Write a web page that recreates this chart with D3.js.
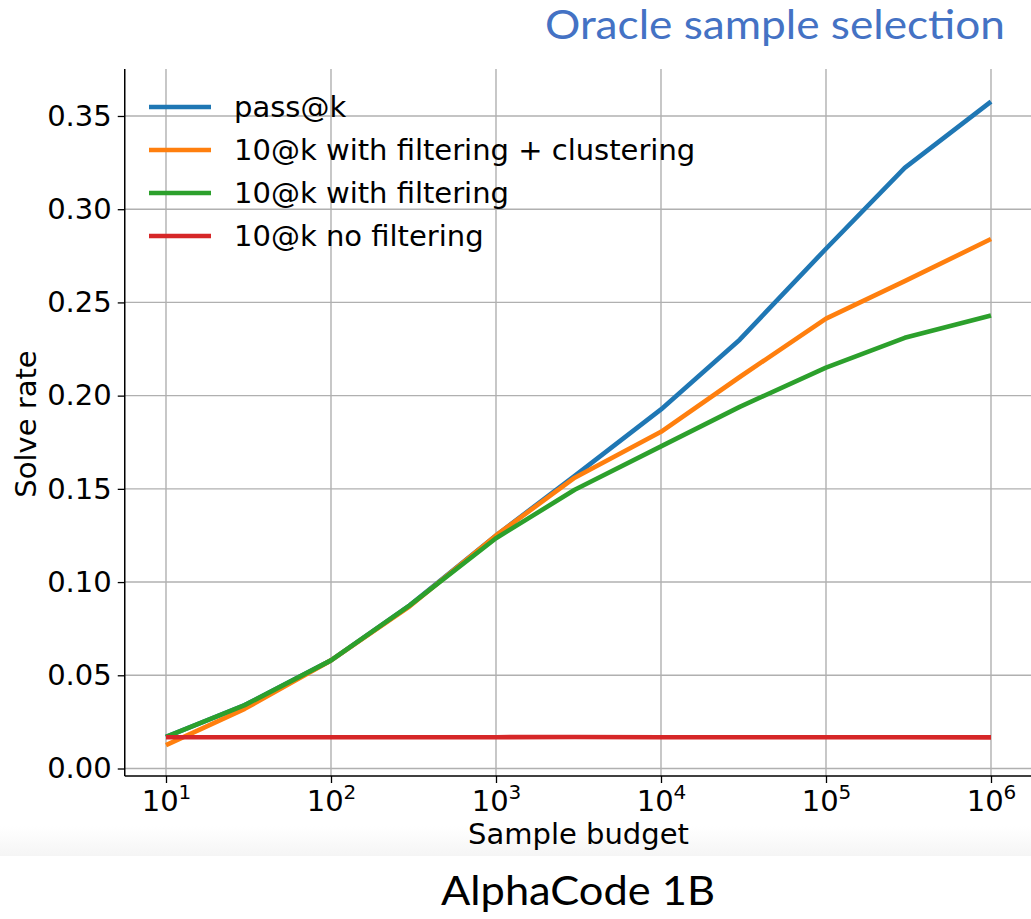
<!DOCTYPE html>
<html>
<head>
<meta charset="utf-8">
<script src="https://cdn.jsdelivr.net/npm/d3@7"></script>
<style>
  html, body { margin: 0; padding: 0; background: #ffffff; }
  svg { display: block; }
</style>
</head>
<body>
<svg id="chart" width="1031" height="919"></svg>
<script>
// ---- data ----
const sampleBudget = [10, 30, 100, 300, 1000, 3000, 1e4, 3e4, 1e5, 3e5, 1e6];
const passAtK      = [0.017, 0.034, 0.058, 0.0875, 0.125, 0.157, 0.1926, 0.230, 0.2788, 0.3222, 0.3577];
const filterClust  = [0.0125, 0.032, 0.058, 0.087, 0.125, 0.156, 0.1806, 0.210, 0.2413, 0.2614, 0.284];
const withFilter   = [0.017, 0.034, 0.058, 0.0875, 0.1235, 0.1495, 0.1728, 0.194, 0.215, 0.231, 0.243];
const noFilter     = [0.0168, 0.0168, 0.0168, 0.0168, 0.0168, 0.0169, 0.0168, 0.0168, 0.0168, 0.0168, 0.0167];
const seriesNames  = ["pass@k", "10@k with filtering + clustering", "10@k with filtering", "10@k no filtering"];
const seriesColors = ["#1f77b4", "#ff7f0e", "#2ca02c", "#d62728"];
const yTicks = [0, 0.05, 0.10, 0.15, 0.20, 0.25, 0.30, 0.35];
const xTicks = [1e1, 1e2, 1e3, 1e4, 1e5, 1e6];
const titleText = "Oracle sample selection";
const captionText = "AlphaCode 1B";
const xLabel = "Sample budget";
const yLabel = "Solve rate";

const svg = d3.select("#chart");
const W = 1031, H = 919;
const FS = 29;

// plot area
const pL = 124.75, pR = 1032.25, pT = 69, pB = 776;
const x = d3.scaleLog().domain([Math.pow(10, 0.75), Math.pow(10, 6.25)]).range([pL, pR]);
const y = d3.scaleLinear().domain([-0.00402, 0.3752]).range([pB, pT]);

// faint shadow band at bottom of chart image
const defs = svg.append("defs");
const grad = defs.append("linearGradient").attr("id", "fade").attr("x1", 0).attr("y1", 0).attr("x2", 0).attr("y2", 1);
grad.append("stop").attr("offset", "0%").attr("stop-color", "#ffffff");
grad.append("stop").attr("offset", "100%").attr("stop-color", "#f5f5f5");
svg.append("rect").attr("x", 0).attr("y", 826).attr("width", W).attr("height", 30).attr("fill", "url(#fade)");

// grid
const g = svg.append("g");
g.selectAll(".vgrid").data(xTicks).enter().append("line")
  .attr("x1", d => x(d)).attr("x2", d => x(d))
  .attr("y1", pT).attr("y2", pB)
  .attr("stroke", "#b0b0b0").attr("stroke-width", 1.4);
g.selectAll(".hgrid").data(yTicks).enter().append("line")
  .attr("x1", pL).attr("x2", W)
  .attr("y1", d => y(d)).attr("y2", d => y(d))
  .attr("stroke", "#b0b0b0").attr("stroke-width", 1.4);

// lines
const allSeries = [passAtK, filterClust, withFilter, noFilter];
const line = d3.line().x((d, i) => x(sampleBudget[i])).y(d => y(d));
allSeries.forEach((s, si) => {
  svg.append("path")
    .datum(s)
    .attr("d", line)
    .attr("fill", "none")
    .attr("stroke", seriesColors[si])
    .attr("stroke-width", 4.6)
    .attr("stroke-linejoin", "round");
});

// axes
const yAxis = d3.axisLeft(y).tickValues(yTicks).tickFormat(d3.format(".2f")).tickSize(7).tickPadding(6);
const yg = svg.append("g").attr("transform", `translate(${pL},0)`).call(yAxis);
yg.select(".domain").attr("d", `M0,${pT}V${pB}`).attr("stroke", "#000").attr("stroke-width", 1.5);
yg.selectAll(".tick line").attr("stroke", "#000").attr("stroke-width", 1.3);
yg.selectAll(".tick text").attr("font-family", "DejaVu Sans").attr("font-size", FS).attr("fill", "#000");

const xAxis = d3.axisBottom(x).tickValues(xTicks).tickFormat("").tickSize(7);
const xg = svg.append("g").attr("transform", `translate(0,${pB})`).call(xAxis);
xg.select(".domain").attr("d", `M${pL},0H${W}`).attr("stroke", "#000").attr("stroke-width", 1.5);
xg.selectAll(".tick line").attr("stroke", "#000").attr("stroke-width", 1.3);
xg.selectAll(".tick").append("text")
  .attr("y", 35).attr("fill", "#000")
  .attr("font-family", "DejaVu Sans").attr("font-size", FS)
  .attr("text-anchor", "middle")
  .each(function(d) {
    const t = d3.select(this);
    t.append("tspan").text("10");
    t.append("tspan").attr("dy", -12).attr("font-size", 20).text(String(Math.round(Math.log10(d))));
  });

// axis labels
svg.append("text").attr("x", (pL + pR) / 2).attr("y", 844)
  .attr("text-anchor", "middle").attr("font-family", "DejaVu Sans").attr("font-size", FS)
  .attr("fill", "#000").text(xLabel);
svg.append("text").attr("transform", "translate(36,424) rotate(-90)")
  .attr("text-anchor", "middle").attr("font-family", "DejaVu Sans").attr("font-size", FS)
  .attr("fill", "#000").text(yLabel);

// legend
const leg = svg.append("g");
seriesNames.forEach((name, i) => {
  const ly = 107 + i * 43;
  leg.append("line").attr("x1", 149).attr("x2", 211).attr("y1", ly).attr("y2", ly)
    .attr("stroke", seriesColors[i]).attr("stroke-width", 4.6);
  leg.append("text").attr("x", 234).attr("y", ly + 10)
    .attr("font-family", "DejaVu Sans").attr("font-size", FS).attr("fill", "#000").text(name);
});

// title & caption
svg.append("text").attr("x", 545).attr("y", 39)
  .attr("font-family", "Lato, 'Open Sans', sans-serif").attr("font-size", 41)
  .attr("fill", "#4472c4").attr("textLength", 460).attr("lengthAdjust", "spacingAndGlyphs")
  .text(titleText);
svg.append("text").attr("x", 441).attr("y", 905)
  .attr("font-family", "Lato, 'Open Sans', sans-serif").attr("font-size", 41)
  .attr("fill", "#000").attr("textLength", 274).attr("lengthAdjust", "spacingAndGlyphs")
  .text(captionText);
</script>
</body>
</html>
